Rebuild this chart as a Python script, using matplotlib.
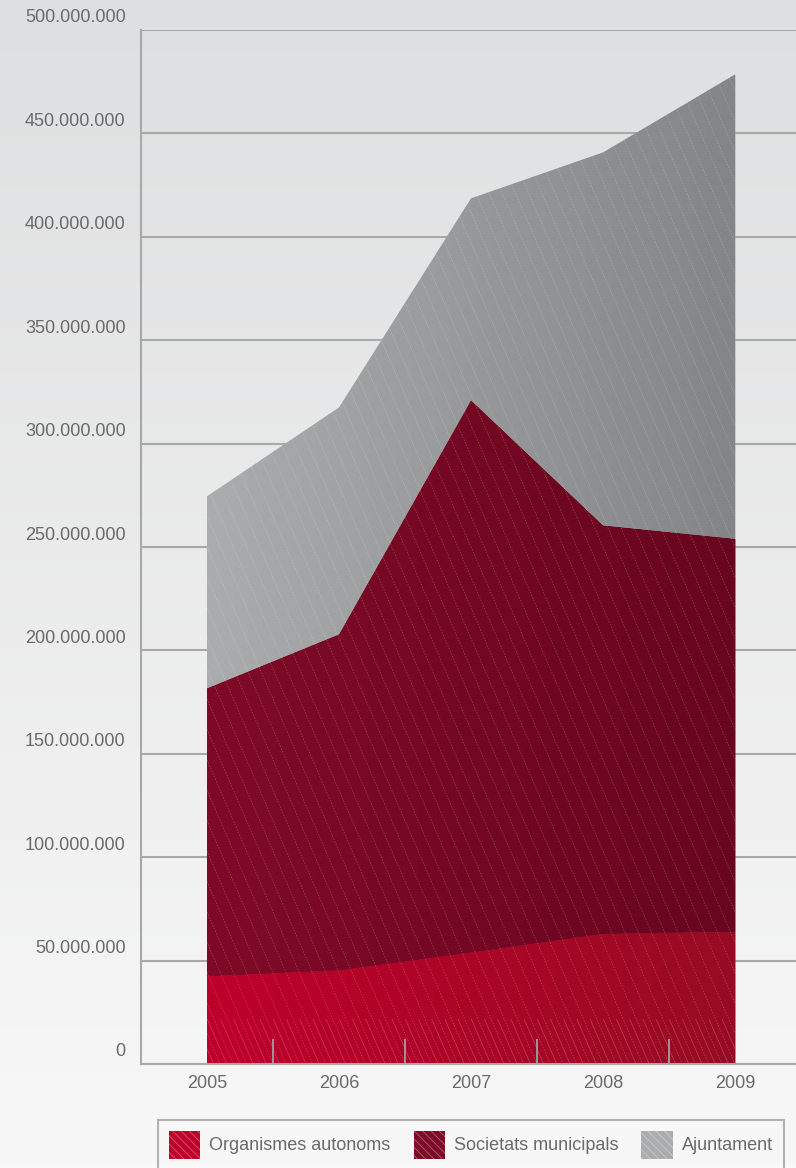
import numpy as np
import matplotlib
matplotlib.use("Agg")
import matplotlib.pyplot as plt
from matplotlib.patches import Patch, Rectangle
from matplotlib.colors import LinearSegmentedColormap
from matplotlib.collections import LineCollection
from matplotlib.transforms import ScaledTranslation

plt.rcParams['font.family'] = ['Liberation Sans', 'DejaVu Sans']
plt.rcParams['hatch.linewidth'] = 0.6

# data (euros)
years = [2005, 2006, 2007, 2008, 2009]
organismes = [42500000, 45400000, 54000000, 63000000, 64000000]
societats = [139200000, 162400000, 267000000, 197500000, 190000000]
ajuntament = [92800000, 109700000, 97600000, 180300000, 224500000]
series_names = ['Organismes autonoms', 'Societats municipals', 'Ajuntament']
yticks = [0, 50000000, 100000000, 150000000, 200000000, 250000000,
          300000000, 350000000, 400000000, 450000000, 500000000]

# left / right colours of each band
band_colors = [('#BE002A', '#980B23'), ('#7F0A27', '#68051F'), ('#ABACAE', '#848586')]
text_color = '#6A6A6A'
grid_color = '#A8A8A8'

W, H = 796, 1168
fig = plt.figure(figsize=(W / 100, H / 100), dpi=100)

# background gradient
bg = fig.add_axes([0, 0, 1, 1], zorder=-10)
grad = np.linspace(0, 1, 256).reshape(-1, 1)
bg.imshow(grad, aspect='auto', extent=[0, 1, 0, 1],
          cmap=LinearSegmentedColormap.from_list('bg', ['#F8F8F8', '#DEDFE0']),
          origin='lower')
bg.axis('off')

ax = fig.add_axes([141 / W, 1 - 1064 / H, 660 / W, 1034 / H])
ax.patch.set_alpha(0)

x = np.array(years, dtype=float)
layers = [np.array(organismes), np.array(societats), np.array(ajuntament)]
base = np.zeros(len(x))
polys = []
for i, vals in enumerate(layers):
    top = base + vals
    poly = ax.fill_between(x, base, top, color=band_colors[i][0], lw=0, zorder=2)
    cmap = LinearSegmentedColormap.from_list('b%d' % i, band_colors[i])
    im = ax.imshow(np.linspace(0, 1, 256).reshape(1, -1), aspect='auto', cmap=cmap,
                   extent=[x[0], x[-1], 0, 500000000], zorder=2.1)
    im.set_clip_path(poly.get_paths()[0], transform=ax.transData)
    polys.append(poly)
    base = top
ax.set_xlim(2004.5, 2009.5)
ax.set_ylim(0, 500000000)

# thin diagonal hatch lines
segs = [[(x0, 500000000), (x0 + 3.4, 0)] for x0 in np.arange(2001.0, 2012.0, 0.1)]
for poly in polys:
    lc = LineCollection(segs, colors=[(1, 1, 1, 0.2)], linewidths=0.6,
                        linestyles=(0, (2, 1.5)), zorder=2.5)
    ax.add_collection(lc)
    lc.set_clip_path(poly.get_paths()[0], transform=ax.transData)
# lighter lower band in the first series
segs2 = [[(x0 + 0.05, 500000000), (x0 + 3.45, 0)] for x0 in np.arange(2001.0, 2012.0, 0.1)]
lc2 = LineCollection(segs2, colors=[(1, 1, 1, 0.2)], linewidths=0.6, zorder=2.6)
ax.add_collection(lc2)
clip_rect = Rectangle((x[0], 0), x[-1] - x[0], 22000000, transform=ax.transData)
lc2.set_clip_path(clip_rect)

# gridlines below areas
for t in yticks:
    ax.axhline(t, color=grid_color, lw=1.5, zorder=1)

# small ticks between the years
mids = (x[:-1] + x[1:]) / 2
ax.vlines(mids, 0, 12000000, color='#A0A0A0', lw=1.3, zorder=3)

for s in ['top', 'right']:
    ax.spines[s].set_visible(False)
for s in ['left', 'bottom']:
    ax.spines[s].set_color(grid_color)
    ax.spines[s].set_linewidth(1.5)
    ax.spines[s].set_zorder(3)

ax.set_yticks(yticks)
ax.set_yticklabels(['{:,}'.format(v).replace(',', '.') for v in yticks])
ax.set_xticks(years)
ax.set_xticklabels([str(y) for y in years])
ax.tick_params(axis='both', length=0, labelsize=13, labelcolor=text_color)
ax.tick_params(axis='y', pad=11)
ax.tick_params(axis='x', pad=8)
for lab in ax.get_yticklabels():
    lab.set_transform(lab.get_transform() + ScaledTranslation(0, 0.14, fig.dpi_scale_trans))

handles = [Patch(facecolor=band_colors[i][0], edgecolor=(1, 1, 1, 0.35), hatch='\\\\\\\\', lw=0)
           for i in range(3)]
leg = fig.legend(handles, series_names, loc='upper left',
                 bbox_to_anchor=(158 / W, 1 - 1121 / H, 626 / W, 0.001),
                 mode='expand', ncol=3, fontsize=13, frameon=True, fancybox=False,
                 handlelength=1.75, handleheight=2.0, handletextpad=0.5,
                 borderpad=0.6, borderaxespad=0, labelcolor=text_color)
leg.get_frame().set_edgecolor('#A0A0A0')
leg.get_frame().set_linewidth(1.5)
leg.get_frame().set_facecolor('none')

fig.savefig('out.png', dpi=100)
